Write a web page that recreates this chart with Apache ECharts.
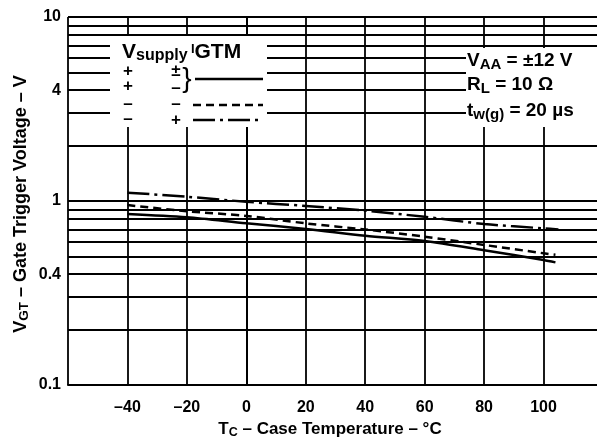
<!DOCTYPE html>
<html><head><meta charset="utf-8">
<script src="https://cdn.jsdelivr.net/npm/echarts@6/dist/echarts.min.js"></script>
<style>html,body{margin:0;padding:0;background:#fff}#c{width:597px;height:445px}</style>
</head><body><div id="c"></div>
<script>
// ---- data ----
const yLabelValues = [0.1, 0.4, 1, 4, 10];
const yGridValues = [0.1,0.2,0.3,0.4,0.5,0.6,0.7,0.8,0.9,1,2,3,4,5,6,7,8,9,10];
const tempSolid = [-40, -20, 0, 20, 40, 60, 80, 100, 104];
const vgtSolid  = [0.85, 0.815, 0.756, 0.705, 0.648, 0.606, 0.54, 0.478, 0.464];
const tempDashed = [-40, -20, 0, 20, 40, 60, 80, 100, 104];
const vgtDashed  = [0.95, 0.88, 0.83, 0.756, 0.70, 0.64, 0.577, 0.52, 0.51];
const tempDashDot = [-40, -20, 0, 20, 40, 60, 80, 100, 105];
const vgtDashDot  = [1.11, 1.055, 0.99, 0.94, 0.886, 0.82, 0.75, 0.71, 0.70];

const pair = (xs, ys) => xs.map((x, i) => [x, ys[i]]);
const FONT = '"Liberation Sans", Arial, sans-serif';
const chart = echarts.init(document.getElementById('c'), null, {renderer: 'canvas'});

const sub = {fontSize: 12.5, fontWeight: 'bold', fontFamily: FONT, color: '#000', padding: [7, 0, 0, 0]};
const big = {fontSize: 17, fontWeight: 'bold', fontFamily: FONT, color: '#000'};
const bigR = {fontSize: 19, fontWeight: 'bold', fontFamily: FONT, color: '#000'};
const subR = {fontSize: 15, fontWeight: 'bold', fontFamily: FONT, color: '#000', padding: [8, 0, 0, 0]};
const sym = (x, y, t) => ({type: 'text', z: 101, x: x, y: y, style: {
  text: t, align: 'center', verticalAlign: 'middle', font: 'bold 17px ' + FONT, fill: '#000'}});

chart.setOption({
  backgroundColor: '#fff',
  animation: false,
  grid: {left: 68, right: -6, top: 17, bottom: 60, containLabel: false, outerBoundsMode: 'none'},
  xAxis: {
    type: 'value', min: -60, max: 120, interval: 20,
    axisLine: {show: true, onZero: false, lineStyle: {color: '#000', width: 2}},
    axisTick: {show: false},
    splitLine: {show: true, lineStyle: {color: '#000', width: 1.8}},
    axisLabel: {
      margin: 15, color: '#000', fontWeight: 'bold', fontSize: 16, fontFamily: FONT,
      formatter: v => (v === -60 || v === 120) ? '' : String(v).replace('-', '\u2013')
    },
    name: '{b|T}{s|C}{b| \u2013 Case Temperature \u2013 \u00B0C}',
    nameLocation: 'middle', nameGap: 33,
    nameTextStyle: {rich: {b: big, s: sub}, padding: [0, 11, 0, 0]}
  },
  yAxis: {
    type: 'log', logBase: 10, min: 0.1, max: 10,
    axisLine: {show: true, lineStyle: {color: '#000', width: 2}},
    axisTick: {show: false, customValues: yGridValues},
    splitLine: {show: true, lineStyle: {color: '#000', width: 1.8}},
    axisLabel: {
      customValues: yLabelValues, margin: 7, color: '#000', fontWeight: 'bold', fontSize: 16, fontFamily: FONT,
      formatter: v => String(+v.toPrecision(3))
    }
  },
  graphic: [
    {type: 'rect', z: 100, shape: {x: 110, y: 36, width: 157, height: 91}, style: {fill: '#fff'}},
    {type: 'rect', z: 100, shape: {x: 466, y: 48, width: 140, height: 79}, style: {fill: '#fff'}},
    {type: 'text', z: 101, x: 122, y: 52, style: {
      text: '{v|V}{s|supply} {i|I}{v|GTM}', verticalAlign: 'middle',
      rich: {v: {fontSize: 21, fontWeight: 'bold', fontFamily: FONT, color: '#000'},
             s: {fontSize: 16, fontWeight: 'bold', fontFamily: FONT, color: '#000', padding: [8,0,0,0]},
             i: {fontSize: 13, fontWeight: 'bold', fontFamily: FONT, color: '#000', padding: [0,0,5,0]}}
    }},
    sym(128, 71, '+'), sym(128, 86, '+'), sym(128, 104, '\u2013'), sym(128, 119, '\u2013'),
    sym(176, 71, '\u00B1'), sym(176, 88, '\u2013'), sym(176, 104, '\u2013'), sym(176, 120, '+'),
    {type: 'text', z: 101, x: 187, y: 79, style: {text: '}', align: 'center', verticalAlign: 'middle', font: '28px ' + FONT, fill: '#000'}},
    {type: 'line', z: 101, shape: {x1: 195, y1: 79, x2: 263, y2: 79}, style: {stroke: '#000', lineWidth: 2.5}},
    {type: 'line', z: 101, shape: {x1: 193, y1: 105, x2: 263, y2: 105}, style: {stroke: '#000', lineWidth: 2.5, lineDash: [8, 5]}},
    {type: 'line', z: 101, shape: {x1: 193, y1: 120, x2: 263, y2: 120}, style: {stroke: '#000', lineWidth: 2.5, lineDash: [22, 5, 3, 5]}},
    {type: 'text', z: 101, x: 467, y: 61, style: {
      text: '{b|V}{s|AA}{b| = \u00B112 V}', verticalAlign: 'middle', rich: {b: bigR, s: subR}}},
    {type: 'text', z: 101, x: 467, y: 85, style: {
      text: '{b|R}{s|L}{b| = 10 \u03A9}', verticalAlign: 'middle', rich: {b: bigR, s: subR}}},
    {type: 'text', z: 101, x: 467, y: 111, style: {
      text: '{b|t}{s|w(g)}{b| = 20 \u00B5s}', verticalAlign: 'middle', rich: {b: bigR, s: subR}}},
    {type: 'text', z: 101, x: 21, y: 204, rotation: Math.PI / 2, style: {
      text: '{b|V}{s|GT}{b| \u2013 Gate Trigger Voltage \u2013 V}', align: 'center', verticalAlign: 'middle',
      rich: {b: {fontSize: 18, fontWeight: 'bold', fontFamily: FONT, color: '#000'},
             s: {fontSize: 13.5, fontWeight: 'bold', fontFamily: FONT, color: '#000', padding: [7, 0, 0, 0]}}}}
  ],
  series: [
    {type: 'line', data: pair(tempSolid, vgtSolid), symbol: 'none', smooth: 0.3,
     lineStyle: {color: '#000', width: 2.5, type: 'solid'}},
    {type: 'line', data: pair(tempDashed, vgtDashed), symbol: 'none', smooth: 0.3,
     lineStyle: {color: '#000', width: 2.5, type: [8, 5]}},
    {type: 'line', data: pair(tempDashDot, vgtDashDot), symbol: 'none', smooth: 0.3,
     lineStyle: {color: '#000', width: 2.5, type: [22, 5, 3, 5]}}
  ]
});
</script></body></html>
